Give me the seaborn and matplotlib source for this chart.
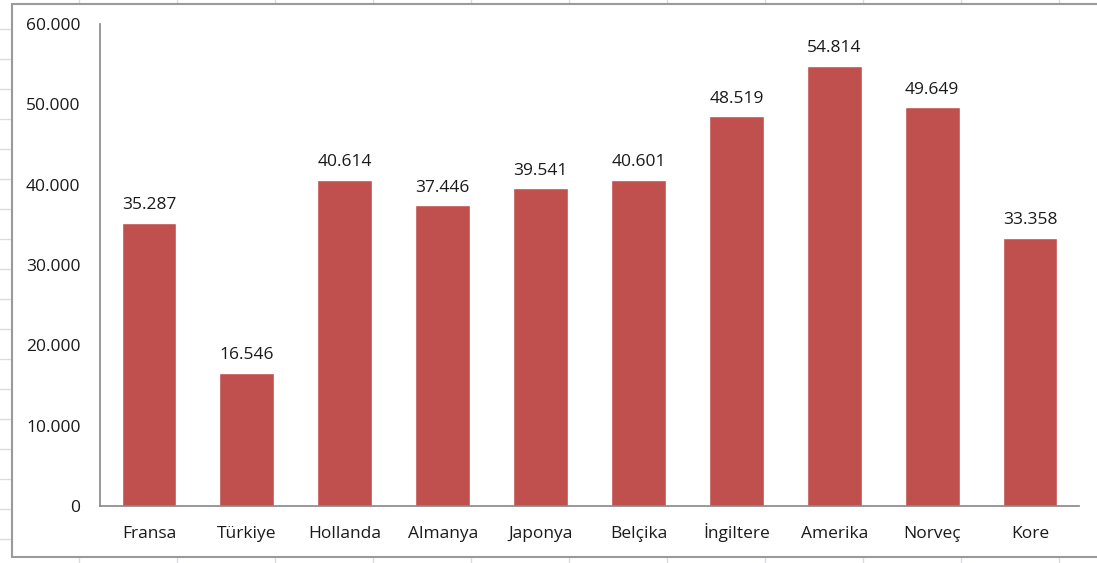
import matplotlib.pyplot as plt
import seaborn as sns
import pandas as pd
from matplotlib.lines import Line2D
from matplotlib.ticker import FuncFormatter

# data
countries = ['Fransa', 'Türkiye', 'Hollanda', 'Almanya', 'Japonya',
             'Belçika', 'İngiltere', 'Amerika', 'Norveç', 'Kore']
values = [35287, 16546, 40614, 37446, 39541, 40601, 48519, 54814, 49649, 33358]
yticks = [0, 10000, 20000, 30000, 40000, 50000, 60000]

df = pd.DataFrame({'country': countries, 'value': values})


def tr_fmt(v, pos=None):
    return f'{int(round(v)):,}'.replace(',', '.')


sns.set_style('white')
plt.rcParams['font.family'] = ['Open Sans', 'DejaVu Sans']

fig = plt.figure(figsize=(10.97, 5.63), dpi=100)
ax = fig.add_axes([100 / 1097, 1 - 506 / 563, 979 / 1097, 482 / 563])

sns.barplot(data=df, x='country', y='value', color='#C0504D', width=0.56,
            saturation=1, ax=ax)

for i, v in enumerate(values):
    ax.text(i, v + 1200, tr_fmt(v), ha='center', va='bottom',
            fontsize=12.5, color='#1a1a1a')

ax.set_ylim(0, 60000)
ax.set_yticks(yticks)
ax.yaxis.set_major_formatter(FuncFormatter(tr_fmt))
ax.set_xlim(-0.5, len(countries) - 0.5)
ax.set_xlabel('')
ax.set_ylabel('')
ax.tick_params(axis='both', length=0, labelsize=12.5, colors='#1a1a1a')
ax.tick_params(axis='y', pad=14)
ax.tick_params(axis='x', pad=23)
# keep all category labels on one baseline (İ is taller)
for lbl in ax.get_xticklabels():
    lbl.set_verticalalignment('baseline')
for side in ['top', 'right']:
    ax.spines[side].set_visible(False)
for side in ['left', 'bottom']:
    ax.spines[side].set_color('#868686')
    ax.spines[side].set_linewidth(1.2)

# spreadsheet cell lines behind the chart frame
W, H = 1097, 563
grid_c = '#D9DCE6'
for y in range(29, 563, 30):
    fig.add_artist(Line2D([0, 10 / W], [1 - y / H] * 2, color=grid_c, lw=1))
for x in range(79, 1097, 98):
    fig.add_artist(Line2D([x / W] * 2, [1, 1 - 3 / H], color=grid_c, lw=1))
    fig.add_artist(Line2D([x / W] * 2, [0, 5 / H], color=grid_c, lw=1))

# chart frame
frame_c = '#9A9A9A'
fig.add_artist(Line2D([12 / W, 12 / W], [1 - 3.5 / H, 1 - 557 / H], color=frame_c, lw=1.5))
fig.add_artist(Line2D([12 / W, 1], [1 - 3.5 / H] * 2, color=frame_c, lw=1.5))
fig.add_artist(Line2D([12 / W, 1], [1 - 557 / H] * 2, color=frame_c, lw=1.5))

fig.savefig('out.png', dpi=100)
